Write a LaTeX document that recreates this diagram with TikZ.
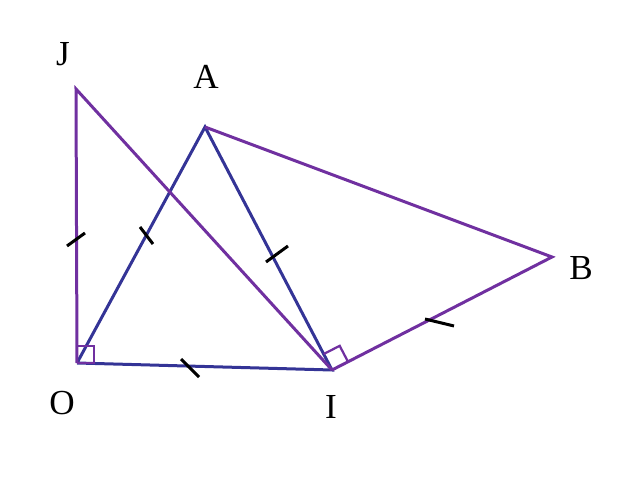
\documentclass[tikz,border=0pt]{standalone}
\usepackage{fontspec}
\setmainfont{Liberation Serif}
\usetikzlibrary{calc}
\definecolor{violet}{RGB}{112,48,160}
\definecolor{indigo}{RGB}{52,52,150}
\tikzset{
	vline/.style={line width=0.6mm, color=violet},
	bline/.style={line width=0.6mm, color=indigo},
	tick/.style={line width=0.6mm, color=black},
	lbl/.style={font=\fontsize{20}{24}\selectfont}
}

\begin{document}
\begin{tikzpicture}[x=0.02cm, y=-0.02cm]
			%%%%% START %%%%%
			\useasboundingbox (0, 0) rectangle (639, 479);
			
			\coordinate (O) at (77, 363);
			\coordinate (J) at (76, 89);
			\coordinate (A) at (205, 127);
			\coordinate (I) at (332, 370);
			\coordinate (B) at (552, 257);
			
			\node[lbl] (lJ) at (63, 54) {J};
			\node[lbl] (lA) at (206, 77) {A};
			\node[lbl] (lB) at (581, 268) {B};
			\node[lbl] (lO) at (62, 403) {O};
			\node[lbl] (lI) at (331, 407) {I};
			
			\draw[bline] (O) -- (A) -- (I) -- (O);
			\draw[vline] (O) -- (J) -- (I);
			\draw[vline] (A) -- (B) -- (I);
			
			% right angles
			\draw[vline, line width=0.45mm] (77, 346) -- (94, 346) -- (94, 363) -- (O);
			\coordinate (ia) at ($(I)!0.36cm!(A)$);
			\coordinate (ib) at ($(I)!0.36cm!(B)$);
			\draw[vline, line width=0.45mm] (ia) -- ($(ia)+(ib)-(I)$) -- (ib);
			
			% equal marks
			\draw[tick] (67, 246) -- (85, 233);
			\draw[tick] (140, 227) -- (153, 244);
			\draw[tick] (266, 262) -- (288, 246);
			\draw[tick] (181, 359) -- (199, 377);
			\draw[tick] (425, 319) -- (454, 326);
			%%%%% END %%%%%
\end{tikzpicture}
\end{document}
